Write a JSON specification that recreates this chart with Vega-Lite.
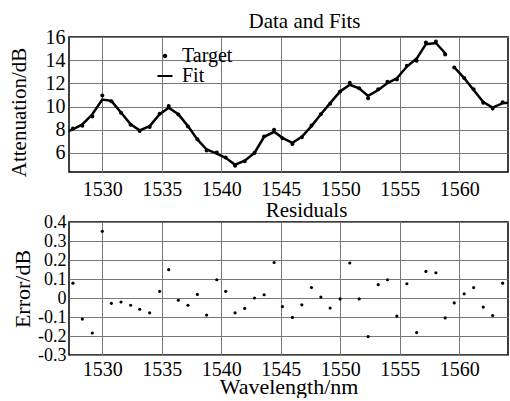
{
  "$schema": "https://vega.github.io/schema/vega-lite/v6.json",
  "padding": {"left": 7, "top": 10, "right": 3, "bottom": 0},
  "spacing": -1,
  "config": {
    "font": "Liberation Serif",
    "view": {"stroke": "black", "strokeWidth": 1.5},
    "axis": {
      "labelFont": "Liberation Serif", "titleFont": "Liberation Serif",
      "labelColor": "black", "titleColor": "black", "titleFontWeight": "normal",
      "domain": false, "tickSize": 0,
      "labelFontSize": 20, "titleFontSize": 22, "labelOverlap": false
    },
    "title": {"font": "Liberation Serif", "fontSize": 21, "fontWeight": "normal", "color": "black"}
  },
  "data": {"values": [
    {"wl": 1526.72, "Fit": 7.72, "seg": 1},
    {"wl": 1527.53, "Fit": 8.03, "Target": 8.11, "Error": 0.078, "seg": 1},
    {"wl": 1528.32, "Fit": 8.46, "Target": 8.35, "Error": -0.111, "seg": 1},
    {"wl": 1529.16, "Fit": 9.33, "Target": 9.15, "Error": -0.184, "seg": 1},
    {"wl": 1530.0, "Fit": 10.6, "Target": 10.95, "Error": 0.351, "seg": 1},
    {"wl": 1530.76, "Fit": 10.49, "Target": 10.46, "Error": -0.028, "seg": 1},
    {"wl": 1531.57, "Fit": 9.48, "Target": 9.46, "Error": -0.021, "seg": 1},
    {"wl": 1532.38, "Fit": 8.46, "Target": 8.42, "Error": -0.038, "seg": 1},
    {"wl": 1533.14, "Fit": 7.94, "Target": 7.88, "Error": -0.059, "seg": 1},
    {"wl": 1533.98, "Fit": 8.31, "Target": 8.23, "Error": -0.078, "seg": 1},
    {"wl": 1534.82, "Fit": 9.33, "Target": 9.37, "Error": 0.035, "seg": 1},
    {"wl": 1535.58, "Fit": 9.9, "Target": 10.05, "Error": 0.149, "seg": 1},
    {"wl": 1536.39, "Fit": 9.33, "Target": 9.32, "Error": -0.012, "seg": 1},
    {"wl": 1537.2, "Fit": 8.31, "Target": 8.27, "Error": -0.038, "seg": 1},
    {"wl": 1537.99, "Fit": 7.16, "Target": 7.18, "Error": 0.019, "seg": 1},
    {"wl": 1538.77, "Fit": 6.29, "Target": 6.2, "Error": -0.09, "seg": 1},
    {"wl": 1539.62, "Fit": 5.94, "Target": 6.04, "Error": 0.096, "seg": 1},
    {"wl": 1540.37, "Fit": 5.57, "Target": 5.6, "Error": 0.035, "seg": 1},
    {"wl": 1541.16, "Fit": 4.98, "Target": 4.9, "Error": -0.078, "seg": 1},
    {"wl": 1541.97, "Fit": 5.33, "Target": 5.28, "Error": -0.055, "seg": 1},
    {"wl": 1542.79, "Fit": 6.0, "Target": 6.0, "Error": 0.0, "seg": 1},
    {"wl": 1543.6, "Fit": 7.39, "Target": 7.41, "Error": 0.017, "seg": 1},
    {"wl": 1544.44, "Fit": 7.82, "Target": 8.0, "Error": 0.187, "seg": 1},
    {"wl": 1545.14, "Fit": 7.3, "Target": 7.26, "Error": -0.045, "seg": 1},
    {"wl": 1545.98, "Fit": 6.87, "Target": 6.77, "Error": -0.102, "seg": 1},
    {"wl": 1546.77, "Fit": 7.39, "Target": 7.35, "Error": -0.036, "seg": 1},
    {"wl": 1547.58, "Fit": 8.31, "Target": 8.37, "Error": 0.055, "seg": 1},
    {"wl": 1548.37, "Fit": 9.33, "Target": 9.34, "Error": 0.005, "seg": 1},
    {"wl": 1549.15, "Fit": 10.29, "Target": 10.24, "Error": -0.053, "seg": 1},
    {"wl": 1549.99, "Fit": 11.3, "Target": 11.3, "Error": -0.005, "seg": 1},
    {"wl": 1550.8, "Fit": 11.88, "Target": 12.06, "Error": 0.184, "seg": 1},
    {"wl": 1551.59, "Fit": 11.57, "Target": 11.57, "Error": -0.005, "seg": 1},
    {"wl": 1552.34, "Fit": 10.92, "Target": 10.72, "Error": -0.203, "seg": 1},
    {"wl": 1553.19, "Fit": 11.42, "Target": 11.49, "Error": 0.07, "seg": 1},
    {"wl": 1553.97, "Fit": 12.03, "Target": 12.13, "Error": 0.096, "seg": 1},
    {"wl": 1554.76, "Fit": 12.43, "Target": 12.34, "Error": -0.095, "seg": 1},
    {"wl": 1555.6, "Fit": 13.45, "Target": 13.52, "Error": 0.075, "seg": 1},
    {"wl": 1556.42, "Fit": 14.14, "Target": 13.96, "Error": -0.182, "seg": 1},
    {"wl": 1557.2, "Fit": 15.38, "Target": 15.52, "Error": 0.14, "seg": 1},
    {"wl": 1558.04, "Fit": 15.48, "Target": 15.61, "Error": 0.133, "seg": 1},
    {"wl": 1558.82, "Fit": 14.6, "Target": 14.5, "Error": -0.105, "seg": 1},
    {"wl": 1559.58, "Fit": 13.39, "Target": 13.36, "Error": -0.026, "seg": 2},
    {"wl": 1560.42, "Fit": 12.45, "Target": 12.47, "Error": 0.022, "seg": 2},
    {"wl": 1561.21, "Fit": 11.43, "Target": 11.49, "Error": 0.055, "seg": 2},
    {"wl": 1562.02, "Fit": 10.38, "Target": 10.33, "Error": -0.048, "seg": 2},
    {"wl": 1562.81, "Fit": 9.91, "Target": 9.82, "Error": -0.092, "seg": 2},
    {"wl": 1563.65, "Fit": 10.29, "Target": 10.37, "Error": 0.078, "seg": 2},
    {"wl": 1564.45, "Fit": 10.34, "seg": 2}
  ]},
  "vconcat": [
    {
      "width": 439, "height": 135,
      "title": {"text": "Data and Fits", "dx": 16, "offset": -5},
      "layer": [
        {
          "mark": {"type": "line", "color": "black", "strokeWidth": 2.5, "clip": true},
          "encoding": {
            "x": {"field": "wl", "type": "quantitative", "scale": {"domain": [1527.2, 1564.1], "nice": false},
                  "axis": {"title": null, "grid": true, "gridColor": "#777777", "values": [1530, 1535, 1540, 1545, 1550, 1555, 1560], "format": "d", "labelPadding": 7}},
            "y": {"field": "Fit", "type": "quantitative", "scale": {"domain": [4.35, 16], "nice": false, "zero": false},
                  "axis": {"title": "Attenuation/dB", "titleFontSize": 21, "grid": true, "gridColor": "#777777", "values": [6, 8, 10, 12, 14, 16], "labelPadding": 4, "titleX": -50, "titleY": 75, "titleBaseline": "middle"}},
            "detail": {"field": "seg", "type": "nominal"}
          }
        },
        {
          "transform": [{"fold": ["Target"], "as": ["series", "val"]}],
          "mark": {"type": "point", "filled": true, "color": "black", "size": 180, "opacity": 1, "clip": true},
          "encoding": {
            "x": {"field": "wl", "type": "quantitative", "axis": {"title": null, "grid": true, "gridColor": "#777777", "values": [1530, 1535, 1540, 1545, 1550, 1555, 1560], "format": "d", "labelPadding": 7}},
            "y": {"field": "val", "type": "quantitative", "axis": {"title": "Attenuation/dB", "titleFontSize": 21, "grid": true, "gridColor": "#777777", "values": [6, 8, 10, 12, 14, 16], "labelPadding": 4, "titleX": -50, "titleY": 75, "titleBaseline": "middle"}},
            "shape": {"field": "series", "type": "nominal",
              "scale": {"domain": ["Target", "Fit"], "range": ["M-0.3,0A0.3,0.3 0 1,0 0.3,0A0.3,0.3 0 1,0 -0.3,0Z", "M-1,-0.13H1V0.13H-1Z"]},
              "legend": {"orient": "none", "legendX": 86, "legendY": 9, "title": null,
                "labelFont": "Liberation Serif", "labelFontSize": 20, "labelColor": "black",
                "labelOffset": 7, "rowPadding": 0, "padding": 0,
                "symbolSize": 225, "symbolFillColor": "black", "symbolStrokeWidth": 0, "symbolOpacity": 1}
            }
          }
        }
      ]
    },
    {
      "width": 439, "height": 133,
      "title": {"text": "Residuals", "dx": 18, "offset": -8},
      "mark": {"type": "point", "filled": true, "color": "black", "size": 10, "opacity": 1},
      "encoding": {
        "x": {"field": "wl", "type": "quantitative", "scale": {"domain": [1527.2, 1564.1], "nice": false},
              "axis": {"title": "Wavelength/nm", "grid": true, "gridColor": "#777777", "values": [1530, 1535, 1540, 1545, 1550, 1555, 1560], "format": "d", "labelPadding": 4, "titleY": 38, "titleBaseline": "alphabetic"}},
        "y": {"field": "Error", "type": "quantitative", "scale": {"domain": [-0.3, 0.4], "nice": false, "zero": false},
              "axis": {"title": "Error/dB", "grid": true, "gridColor": "#777777", "values": [-0.3, -0.2, -0.1, 0, 0.1, 0.2, 0.3, 0.4],
                       "labelExpr": "datum.value == 0 ? '0' : '' + datum.value", "labelFontSize": 18, "labelPadding": 3,
                       "titleX": -47, "titleBaseline": "middle"}}
      }
    }
  ]
}
